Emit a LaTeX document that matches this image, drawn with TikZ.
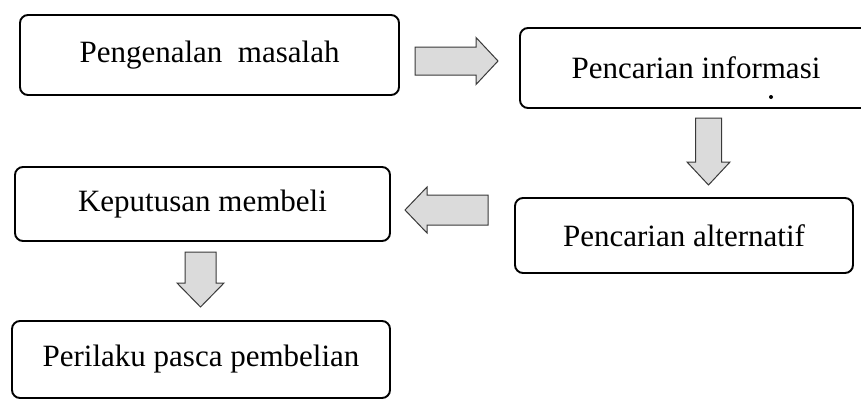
\documentclass[tikz,border=0pt]{standalone}
\usepackage{fontspec}
\setmainfont{Liberation Serif}
\tikzset{
  stagebox/.style={draw=black, line width=1.9pt, rounded corners=8pt, inner sep=0pt,
    font=\fontsize{31}{37}\selectfont},
  blkfill/.style={fill=gray!28, draw=gray!45!black, line width=1pt, line join=miter},
  pics/blockarrow/.style n args={4}{code={
    \path[blkfill] (-#1/2,-#2/2) -- (#1/2-#4,-#2/2) -- (#1/2-#4,-#3/2) -- (#1/2,0)
      -- (#1/2-#4,#3/2) -- (#1/2-#4,#2/2) -- (-#1/2,#2/2) -- cycle;
  }}
}
\begin{document}
\begin{tikzpicture}[x=1pt,y=1pt]
\clip (0,0) rectangle (861,400);
\fill[white] (0,0) rectangle (861,400);
% boxes
\node[stagebox, minimum width=379pt, minimum height=80pt] (b1) at (209.5,345) {Pengenalan\ \ masalah};
\node[stagebox, minimum width=352pt, minimum height=80pt] (b2) at (696,332) {Pencarian informasi};
\node[stagebox, minimum width=375pt, minimum height=74pt] (b3) at (202.5,196) {Keputusan membeli};
\node[stagebox, minimum width=338pt, minimum height=75pt] (b4) at (684,164.5) {Pencarian alternatif};
\node[stagebox, minimum width=378pt, minimum height=77pt] (b5) at (201,40.5) {Perilaku pasca pembelian};
% small dot
\fill (771,303) circle (2pt);
% block arrows
\pic (a1) at (456.5,339) {blockarrow={83}{28}{47}{22}};
\pic[rotate=-90] (a2) at (708.5,248.5) {blockarrow={67}{26}{43}{23}};
\pic[rotate=180] (a3) at (446.5,190) {blockarrow={83}{30}{46}{22}};
\pic[rotate=-90] (a4) at (200.5,120.5) {blockarrow={55}{31}{47}{24}};
\end{tikzpicture}
\end{document}
